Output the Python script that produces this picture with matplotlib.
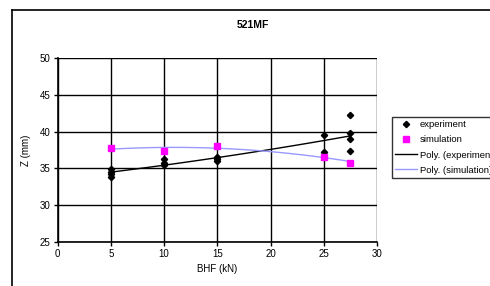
import numpy as np
import matplotlib
matplotlib.use("Agg")
import matplotlib.pyplot as plt
from matplotlib.lines import Line2D

plt.rcParams['font.family'] = ['Liberation Sans', 'DejaVu Sans']

# Data
exp_x = [5, 5, 5, 5, 10, 10, 10, 15, 15, 15, 25, 25, 27.5, 27.5, 27.5, 27.5]
exp_y = [34.9, 34.5, 34.2, 33.8, 36.3, 35.8, 35.4, 36.6, 36.3, 36.0, 39.5, 37.2, 42.3, 39.8, 39.0, 37.3]
sim_x = [5, 10, 15, 25, 27.5]
sim_y = [37.8, 37.4, 38.0, 36.6, 35.8]
x_ticks = [0, 5, 10, 15, 20, 25, 30]
y_ticks = [25, 30, 35, 40, 45, 50]

fig = plt.figure(figsize=(4.9, 2.86), dpi=100)
W, H = 490, 286
ax = fig.add_axes([57.5 / W, (H - 242) / H, (377 - 57.5) / W, (242 - 58) / H])

# Polynomial trendlines (order 2), computed from the data like Excel
pe = np.polyfit(exp_x, exp_y, 2)
ps = np.polyfit(sim_x, sim_y, 2)
xs = np.linspace(5, 27.5, 100)

ax.plot(exp_x, exp_y, linestyle='none', marker='D', markersize=3.2, color='black',
        label='experiment', zorder=4)
ax.plot(sim_x, sim_y, linestyle='none', marker='s', markersize=4, color='#FF00FF',
        label='simulation', zorder=4)
ax.plot(xs, np.polyval(pe, xs), color='black', lw=1, label='Poly. (experiment)', zorder=3)
ax.plot(xs, np.polyval(ps, xs), color='#9999FF', lw=1, label='Poly. (simulation)', zorder=3)

ax.set_xlim(0, 30)
ax.set_ylim(25, 50)
ax.set_xticks(x_ticks)
ax.set_yticks(y_ticks)
ax.grid(True, color='black', lw=1)
ax.set_axisbelow(True)
for s in ['top', 'right']:
    ax.spines[s].set_visible(False)
for s in ['left', 'bottom']:
    ax.spines[s].set_linewidth(1.2)
ax.tick_params(labelsize=7, length=3, width=1, direction='out', pad=2)
ax.set_xlabel('BHF (kN)', fontsize=7, labelpad=4)
ax.set_ylabel('Z (mm)', fontsize=7, labelpad=6)

fig.text(253 / W, 1 - 25 / H, '521MF', ha='center', va='center', fontsize=7.5, fontweight='bold')

# outer chart frame (cut off on right and bottom)
fig.add_artist(Line2D([11.5 / W, 11.5 / W], [0, 1 - 10 / H], color='black', lw=1.2,
                      transform=fig.transFigure))
fig.add_artist(Line2D([11.5 / W, 1], [1 - 10 / H, 1 - 10 / H], color='black', lw=1.2,
                      transform=fig.transFigure))

leg = fig.legend(loc='upper left', bbox_to_anchor=(392 / W, 1 - 117 / H), fontsize=6.8,
                 frameon=True, fancybox=False, edgecolor='black', borderpad=0.35,
                 handlelength=2.3, handletextpad=0.3, labelspacing=0.65, borderaxespad=0)
leg.get_frame().set_linewidth(1)
leg._legend_box.align = 'left'

fig.savefig('out.png', dpi=100)
